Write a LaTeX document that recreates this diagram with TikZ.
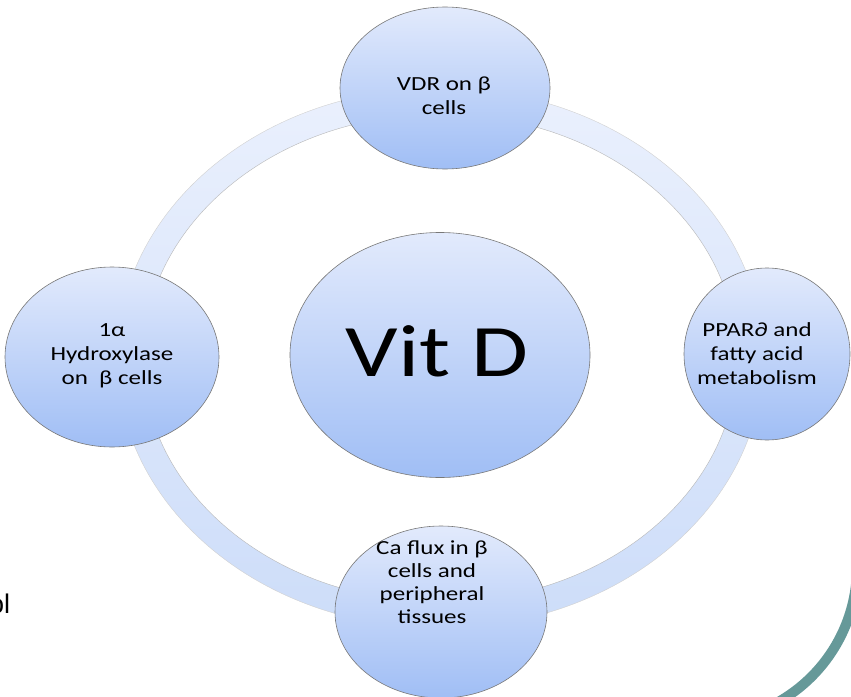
\documentclass[tikz,border=0pt]{standalone}
\usepackage{fontspec}
\setmainfont{Carlito}
\newfontfamily\arialf{Liberation Sans}
\usepackage{graphicx}
\usetikzlibrary{shapes.geometric}
\definecolor{bubtop}{RGB}{226,234,252}
\definecolor{bubbot}{RGB}{160,190,245}
\definecolor{ringtop}{RGB}{234,240,253}
\definecolor{ringbot}{RGB}{205,221,249}
\definecolor{bubedge}{RGB}{120,120,120}
\definecolor{tealarc}{RGB}{102,153,153}
\newcommand{\stretchx}[1]{\scalebox{1.25}[1]{#1}}
\begin{document}
\begin{tikzpicture}[x=1pt,y=-1pt,
  bubble/.style={ellipse, draw=bubedge, line width=0.6pt, top color=bubtop, bottom color=bubbot, inner sep=0pt},
  lbl/.style={align=center, inner sep=0pt, font=\fontsize{20}{24}\selectfont, text=black}]
\useasboundingbox (0,0) rectangle (851,696);
\clip (0,0) rectangle (851,696);
\fill[white] (0,0) rectangle (851,696);
% ring
\shade[top color=ringtop, bottom color=ringbot, even odd rule]
  (440,358) ellipse [x radius=323, y radius=270]
  (440,358) ellipse [x radius=297, y radius=244];
\draw[black!18, line width=0.4pt] (440,358) ellipse [x radius=323, y radius=270];
\draw[black!28, line width=0.4pt] (440,358) ellipse [x radius=297, y radius=244];
% bubbles
\node[bubble, minimum width=210pt, minimum height=162pt] (vdr) at (445,88) {};
\node[bubble, minimum width=214pt, minimum height=180pt] (hyd) at (112,357) {};
\node[bubble, minimum width=166pt, minimum height=172pt] (ppar) at (767,354) {};
\node[bubble, minimum width=212pt, minimum height=172pt] (ca) at (441,612) {};
\node[bubble, minimum width=300pt, minimum height=245pt] (vitd) at (440,355) {};
% labels
\node[inner sep=0pt, font=\fontsize{74}{80}\selectfont] (vitdT) at (437,351) {\stretchx{Vit D}};
\node[lbl] (vdrT) at (444,96) {\stretchx{VDR on β}\\\stretchx{cells}};
\node[lbl] (hydT) at (112,356) {\stretchx{1α}\\\stretchx{Hydroxylase}\\\stretchx{on\ \ β cells}};
\node[lbl] (pparT) at (757,354) {\stretchx{PPAR∂ and}\\\stretchx{fatty acid}\\\stretchx{metabolism}};
\node[lbl, font=\fontsize{20}{23}\selectfont] (caT) at (432,582) {\stretchx{Ca flux in β}\\\stretchx{cells and}\\\stretchx{peripheral}\\\stretchx{tissues}};
% decoration arc
\begin{scope}
  \clip (702,567) rectangle (900,800);
  \draw[tealarc, line width=10pt] (702,567) circle [radius=155];
\end{scope}
\node[anchor=base west, inner sep=0pt, font=\arialf\fontsize{27}{30}\selectfont] (olT) at (-11,613) {ol};
\end{tikzpicture}
\end{document}
